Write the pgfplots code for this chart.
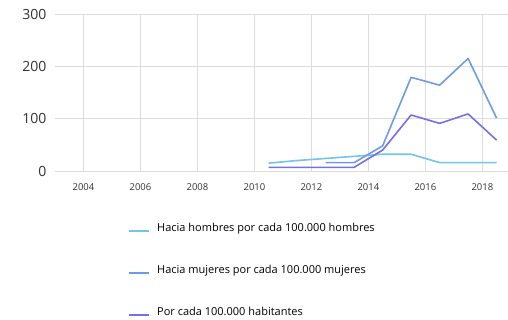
\documentclass[border=0pt]{standalone}
\usepackage{pgfplots}
\pgfplotsset{compat=1.18}
\usepackage{fontspec}
\setmainfont{Open Sans}

\definecolor{hombres}{HTML}{72C4E8}
\definecolor{mujeres}{HTML}{6B9CE4}
\definecolor{habit}{HTML}{7272E4}
\definecolor{gridc}{HTML}{DDDDDD}
\definecolor{txt}{HTML}{333333}

\begin{document}
\begin{tikzpicture}
\useasboundingbox (-55pt,-149pt) rectangle (453pt,171pt);
\begin{axis}[
    scale only axis,
    width=453pt, height=157pt,
    xmin=2003, xmax=2018.9,
    ymin=0, ymax=300,
    xtick={2004,2006,...,2018},
    ytick={0,100,200,300},
    xticklabel style={font=\fontsize{9.5}{11}\selectfont, text=txt},
    yticklabel style={font=\fontsize{14}{16}\selectfont, text=txt},
    /pgf/number format/assume math mode=true,
    /pgf/number format/1000 sep={},
    grid=major,
    major grid style={gridc, line width=0.8pt},
    axis line style={draw=none},
    major tick length=0pt,
    xticklabel shift=9pt,
    yticklabel shift=5pt,
    clip=false,
    legend cell align=left,
    legend style={at={(0.162,-0.248)}, anchor=north west, draw=none, fill=none,
        font=\fontsize{11}{13}\selectfont, row sep=0pt,
        nodes={text height=21pt, text depth=21pt, inner sep=0pt},
        inner sep=0pt, /tikz/column 1/.style={column sep=7pt}},
    legend image code/.code={\draw[#1] (0pt,0pt) -- (20pt,0pt);},
]
\addplot[color=hombres, line width=1.6pt, mark=none, line join=round] coordinates {
    (2010.5,15) (2011.5,20) (2012.5,24) (2013.5,28) (2014.5,32)
    (2015.5,32) (2016.5,16) (2017.5,16) (2018.5,16)};
\addlegendentry{Hacia hombres por cada 100.000 hombres}
\addplot[color=mujeres, line width=1.6pt, mark=none, line join=round] coordinates {
    (2012.5,16) (2013.5,16) (2014.5,48) (2015.5,179)
    (2016.5,164) (2017.5,215) (2018.5,101)};
\addlegendentry{Hacia mujeres por cada 100.000 mujeres}
\addplot[color=habit, line width=1.6pt, mark=none, line join=round] coordinates {
    (2010.5,7) (2011.5,7) (2012.5,7) (2013.5,7) (2014.5,40)
    (2015.5,107) (2016.5,91) (2017.5,109) (2018.5,59)};
\addlegendentry{Por cada 100.000 habitantes}
\end{axis}
\end{tikzpicture}
\end{document}
